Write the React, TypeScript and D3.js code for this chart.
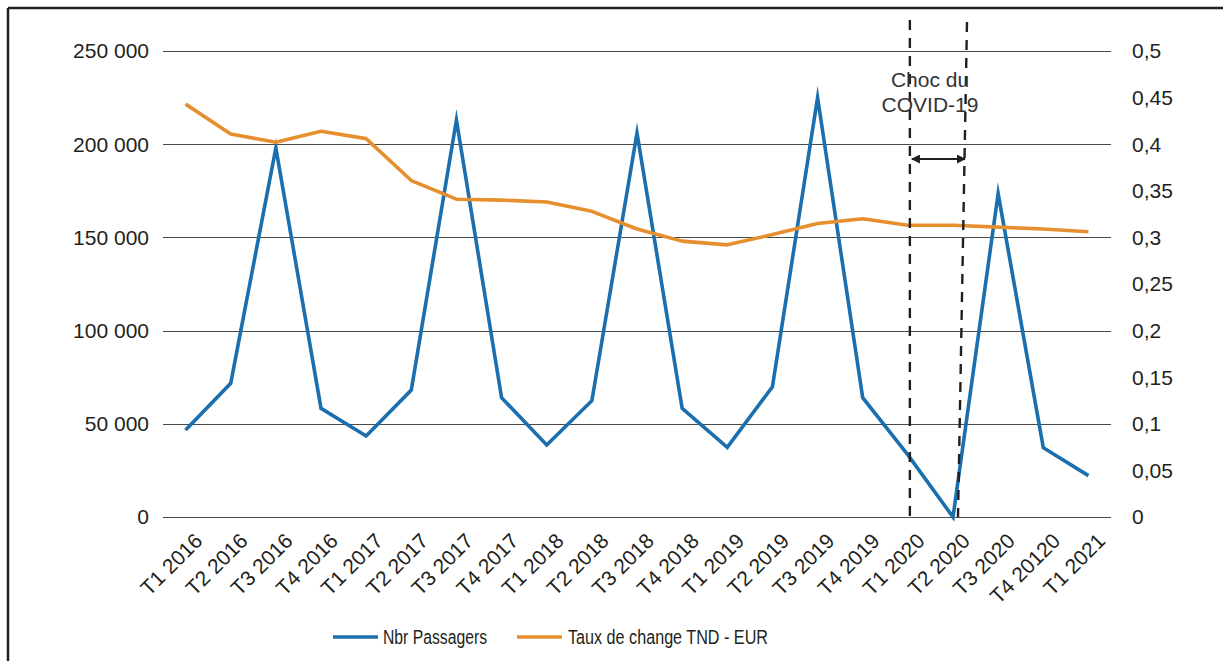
import React from "react";
import * as d3 from "d3";

const categories = [
  "T1 2016", "T2 2016", "T3 2016", "T4 2016",
  "T1 2017", "T2 2017", "T3 2017", "T4 2017",
  "T1 2018", "T2 2018", "T3 2018", "T4 2018",
  "T1 2019", "T2 2019", "T3 2019", "T4 2019",
  "T1 2020", "T2 2020", "T3 2020", "T4 20120", "T1 2021",
];

const passagers = [
  46700, 71700, 198000, 58300,
  43500, 68100, 213000, 64000,
  38600, 62400, 206000, 58300,
  37400, 69900, 225000, 64000,
  33300, 0, 173500, 37200, 22200,
];

const tauxChange = [
  0.443, 0.411, 0.402, 0.414,
  0.406, 0.361, 0.341, 0.340,
  0.338, 0.328, 0.309, 0.296,
  0.292, 0.303, 0.315, 0.320,
  0.313, 0.313, 0.311, 0.309, 0.306,
];

const leftTicks = [0, 50000, 100000, 150000, 200000, 250000];
const rightTicks = [0, 0.05, 0.1, 0.15, 0.2, 0.25, 0.3, 0.35, 0.4, 0.45, 0.5];

const seriesNames = ["Nbr Passagers", "Taux de change TND - EUR"];
const annotationLines = ["Choc du", "COVID-19"];
const shockStart = "T1 2020";
const shockEnd = "T2 2020";

const BLUE = "#1b6fae";
const ORANGE = "#e68f2f";
const INK = "#231f20";
const FONT = "'Liberation Sans', Arial, Helvetica, sans-serif";

const locale = d3.formatLocale({
  decimal: ",",
  thousands: " ",
  grouping: [3],
  currency: ["", " €"],
});
const fmtLeft = locale.format(",");
const fmtRight = (v: number) => locale.format("")(+v.toFixed(2));

export default function App() {
  const W = 1223;
  const H = 661;
  const plotL = 163;
  const plotR = 1111;
  const plotT = 51;
  const plotB = 517;

  const x = d3.scalePoint<string>().domain(categories).range([plotL, plotR]).padding(0.5);
  const yL = d3.scaleLinear().domain([0, 250000]).range([plotB, plotT]);
  const yR = d3.scaleLinear().domain([0, 0.5]).range([plotB, plotT]);

  const lineL = d3
    .line<number>()
    .x((_, i) => x(categories[i]) as number)
    .y((d) => yL(d));
  const lineR = d3
    .line<number>()
    .x((_, i) => x(categories[i]) as number)
    .y((d) => yR(d));

  const xs1 = x(shockStart) as number;
  const xs2 = x(shockEnd) as number;
  const arrowY = 159;

  return (
    <svg
      width={W}
      height={H}
      style={{ position: "absolute", left: 0, top: 0, background: "#fff" }}
      fontFamily={FONT}
    >
      <defs>
        <marker id="ah" viewBox="0 0 10 10" refX="9" refY="5" markerWidth="4.5" markerHeight="4.5" orient="auto-start-reverse">
          <path d="M0,0 L10,5 L0,10 z" fill={INK} />
        </marker>
      </defs>
      <rect x={0} y={0} width={W} height={H} fill="#fff" />
      {/* frame */}
      <line x1={8} y1={8} x2={W} y2={8} stroke={INK} strokeWidth={2.5} />
      <line x1={8} y1={8} x2={8} y2={H} stroke={INK} strokeWidth={2.5} />

      {/* gridlines */}
      {leftTicks.map((t) => (
        <line key={"g" + t} x1={plotL} x2={plotR} y1={Math.round(yL(t)) + 0.5} y2={Math.round(yL(t)) + 0.5} stroke="#4a4a4a" strokeWidth={1} />
      ))}

      {/* left axis labels */}
      {leftTicks.map((t) => (
        <text key={"l" + t} x={149} y={yL(t)} dy="0.35em" textAnchor="end" fontSize={21} fill={INK}>
          {fmtLeft(t)}
        </text>
      ))}

      {/* right axis labels */}
      {rightTicks.map((t) => (
        <text key={"r" + t} x={1132} y={yR(t)} dy="0.35em" textAnchor="start" fontSize={21} fill={INK}>
          {fmtRight(t)}
        </text>
      ))}

      {/* x labels */}
      {categories.map((c) => (
        <text
          key={"x" + c}
          transform={`translate(${(x(c) as number) + 13},${537}) rotate(-45)`}
          dy="0.35em"
          textAnchor="end"
          fontSize={21}
          fill={INK}
        >
          {c}
        </text>
      ))}

      {/* series */}
      <path d={lineL(passagers) as string} fill="none" stroke={BLUE} strokeWidth={3.6} strokeLinejoin="miter" strokeMiterlimit={10} />
      <path d={lineR(tauxChange) as string} fill="none" stroke={ORANGE} strokeWidth={3.6} strokeLinejoin="round" />

      {/* COVID annotation */}
      <line x1={xs1 + 2} y1={20} x2={xs1 + 2} y2={plotB} stroke={INK} strokeWidth={2.4} strokeDasharray="10,8" />
      <line x1={xs2 + 14} y1={22} x2={xs2 + 5} y2={plotB} stroke={INK} strokeWidth={2.4} strokeDasharray="10,8" />
      <line x1={xs1 + 4} x2={xs2 + 12} y1={arrowY} y2={arrowY} stroke={INK} strokeWidth={2} markerStart="url(#ah)" markerEnd="url(#ah)" />
      {annotationLines.map((s, i) => (
        <text key={s} x={930} y={87 + i * 25} textAnchor="middle" fontSize={21} fill="#333">
          {s}
        </text>
      ))}

      {/* legend */}
      <line x1={333} x2={378} y1={637} y2={637} stroke={BLUE} strokeWidth={3.6} />
      <text x={383} y={637} dy="0.35em" fontSize={20} fill={INK} textLength={104} lengthAdjust="spacingAndGlyphs">
        {seriesNames[0]}
      </text>
      <line x1={517} x2={562} y1={637} y2={637} stroke={ORANGE} strokeWidth={3.6} />
      <text x={568} y={637} dy="0.35em" fontSize={20} fill={INK} textLength={200} lengthAdjust="spacingAndGlyphs">
        {seriesNames[1]}
      </text>
    </svg>
  );
}
